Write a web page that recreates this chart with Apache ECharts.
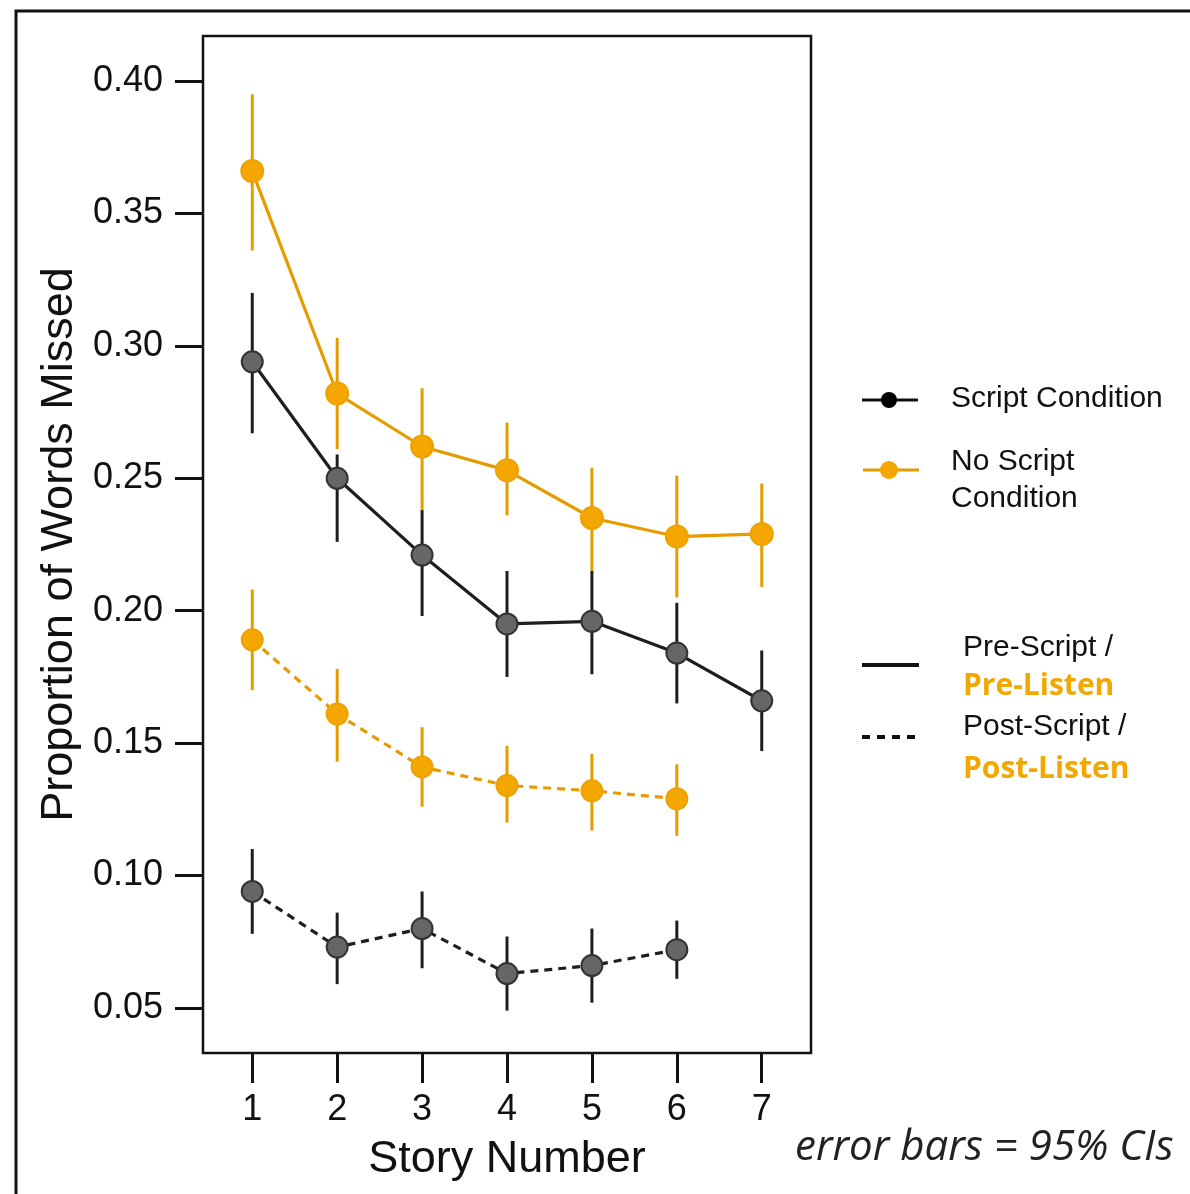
<!DOCTYPE html>
<html>
<head>
<meta charset="utf-8">
<script src="https://cdn.jsdelivr.net/npm/echarts@6/dist/echarts.min.js"></script>
<style>
html,body{margin:0;padding:0;background:#fff;}
#chart{width:1190px;height:1194px;}
</style>
</head>
<body>
<div id="chart"></div>
<script>
// ---- data ----
var stories = [1, 2, 3, 4, 5, 6, 7];
var xTicks = [1, 2, 3, 4, 5, 6, 7];
var yTicks = [0.05, 0.10, 0.15, 0.20, 0.25, 0.30, 0.35, 0.40];

var scriptPre   = [0.294, 0.250, 0.221, 0.195, 0.196, 0.184, 0.166];
var scriptPreLo = [0.267, 0.226, 0.198, 0.175, 0.176, 0.165, 0.147];
var scriptPreHi = [0.320, 0.259, 0.238, 0.215, 0.215, 0.203, 0.185];

var noScriptPre   = [0.366, 0.282, 0.262, 0.253, 0.235, 0.228, 0.229];
var noScriptPreLo = [0.336, 0.261, 0.238, 0.236, 0.215, 0.205, 0.209];
var noScriptPreHi = [0.395, 0.303, 0.284, 0.271, 0.254, 0.251, 0.248];

var scriptPost   = [0.094, 0.073, 0.080, 0.063, 0.066, 0.072];
var scriptPostLo = [0.078, 0.059, 0.065, 0.049, 0.052, 0.061];
var scriptPostHi = [0.110, 0.086, 0.094, 0.077, 0.080, 0.083];

var noScriptPost   = [0.189, 0.161, 0.141, 0.134, 0.132, 0.129];
var noScriptPostLo = [0.170, 0.143, 0.126, 0.120, 0.117, 0.115];
var noScriptPostHi = [0.208, 0.178, 0.156, 0.149, 0.146, 0.142];

// ---- styles ----
var ORANGE_LINE = '#E49C00';
var ORANGE_FILL = '#F4A700';
var DARK = '#1e1e1e';
var GRAY_FILL = '#666666';
var FONT = '"Liberation Sans", Arial, Helvetica, sans-serif';

function pts(vals) {
  return vals.map(function (v, i) { return [stories[i], v]; });
}
function bars(lo, hi) {
  return lo.map(function (v, i) { return [stories[i], v, hi[i]]; });
}
function errSeries(lo, hi, color) {
  return {
    type: 'custom',
    data: bars(lo, hi),
    encode: { x: 0, y: [1, 2] },
    silent: true,
    renderItem: function (params, api) {
      var a = api.coord([api.value(0), api.value(1)]);
      var b = api.coord([api.value(0), api.value(2)]);
      return {
        type: 'line',
        shape: { x1: a[0], y1: a[1], x2: b[0], y2: b[1] },
        style: { stroke: color, lineWidth: 3 }
      };
    }
  };
}
function lineSeries(vals, color, fill, border, dashed, size) {
  return {
    type: 'line',
    data: pts(vals),
    symbol: 'circle',
    symbolSize: size,
    showSymbol: true,
    lineStyle: { color: color, width: 3.2, type: dashed ? [8, 6] : 'solid' },
    itemStyle: { color: fill, borderColor: border, borderWidth: 2 },
    silent: true,
    animation: false
  };
}

var chart = echarts.init(document.getElementById('chart'), null, { renderer: 'canvas' });

var option = {
  animation: false,
  backgroundColor: '#fff',
  grid: {
    left: 203, right: 379, top: 36, bottom: 141,
    show: true, borderColor: '#111', borderWidth: 2.5, backgroundColor: 'transparent'
  },
  xAxis: {
    type: 'value',
    min: 0.42, max: 7.58,
    name: 'Story Number',
    nameLocation: 'middle',
    nameGap: 84,
    nameTextStyle: { fontFamily: FONT, fontSize: 45, color: '#111' },
    axisLine: { show: false },
    axisTick: { show: true, inside: false, length: 30, customValues: xTicks, lineStyle: { color: '#111', width: 3 } },
    axisLabel: { customValues: xTicks, margin: 39, fontFamily: FONT, fontSize: 36, color: '#111' },
    splitLine: { show: false }
  },
  yAxis: {
    type: 'value',
    min: 0.033, max: 0.417,
    name: 'Proportion of Words Missed',
    nameLocation: 'middle',
    nameGap: 121,
    nameRotate: 90,
    nameTextStyle: { fontFamily: FONT, fontSize: 45, color: '#111' },
    axisLine: { show: false },
    axisTick: { show: true, inside: false, length: 28, customValues: yTicks, lineStyle: { color: '#111', width: 3 } },
    axisLabel: {
      customValues: yTicks, margin: 40, fontFamily: FONT, fontSize: 36, color: '#111',
      formatter: function (v) { return v.toFixed(2); }
    },
    splitLine: { show: false }
  },
  series: [
    errSeries(scriptPreLo, scriptPreHi, DARK),
    lineSeries(scriptPre, DARK, GRAY_FILL, '#333', false, 21),
    errSeries(scriptPostLo, scriptPostHi, DARK),
    lineSeries(scriptPost, DARK, GRAY_FILL, '#333', true, 21),
    errSeries(noScriptPreLo, noScriptPreHi, ORANGE_LINE),
    lineSeries(noScriptPre, ORANGE_LINE, ORANGE_FILL, '#EDA200', false, 22),
    errSeries(noScriptPostLo, noScriptPostHi, ORANGE_LINE),
    lineSeries(noScriptPost, ORANGE_LINE, ORANGE_FILL, '#EDA200', true, 21)
  ],
  graphic: [
    // outer frame
    { type: 'polyline', shape: { points: [[16, 1194], [16, 11], [1190, 11]] }, style: { stroke: '#111', lineWidth: 3, fill: null } },
    // legend: Script Condition
    { type: 'line', shape: { x1: 862, y1: 400, x2: 918, y2: 400 }, style: { stroke: '#111', lineWidth: 3 } },
    { type: 'circle', shape: { cx: 889, cy: 400, r: 8 }, style: { fill: '#000' } },
    { type: 'text', left: 951, top: 384, style: { text: 'Script Condition', font: '30px ' + FONT, fill: '#111' } },
    // legend: No Script Condition
    { type: 'line', shape: { x1: 863, y1: 470, x2: 919, y2: 470 }, style: { stroke: ORANGE_LINE, lineWidth: 3 } },
    { type: 'circle', shape: { cx: 889, cy: 470, r: 9 }, style: { fill: ORANGE_FILL } },
    { type: 'text', left: 951, top: 443, style: { text: 'No Script\nCondition', font: '30px ' + FONT, lineHeight: 37, fill: '#111' } },
    // legend: Pre
    { type: 'line', shape: { x1: 862, y1: 665, x2: 919, y2: 665 }, style: { stroke: '#111', lineWidth: 4 } },
    { type: 'text', left: 963, top: 633, style: { text: 'Pre-Script /', font: '30px ' + FONT, fill: '#111' } },
    { type: 'text', left: 963, top: 671, style: { text: 'Pre-Listen', font: 'bold 30px "Open Sans", sans-serif', fill: '#F2A800' } },
    // legend: Post
    { type: 'line', shape: { x1: 862, y1: 737, x2: 919, y2: 737 }, style: { stroke: '#111', lineWidth: 4, lineDash: [8, 7] } },
    { type: 'text', left: 963, top: 712, style: { text: 'Post-Script /', font: '30px ' + FONT, fill: '#111' } },
    { type: 'text', left: 963, top: 754, style: { text: 'Post-Listen', font: 'bold 30px "Open Sans", sans-serif', fill: '#F2A800' } },
    // note
    { type: 'text', left: 795, top: 1127, style: { text: 'error bars = 95% CIs', font: 'italic 42px "Open Sans", sans-serif', fill: '#222' } }
  ]
};
chart.setOption(option);
</script>
</body>
</html>
